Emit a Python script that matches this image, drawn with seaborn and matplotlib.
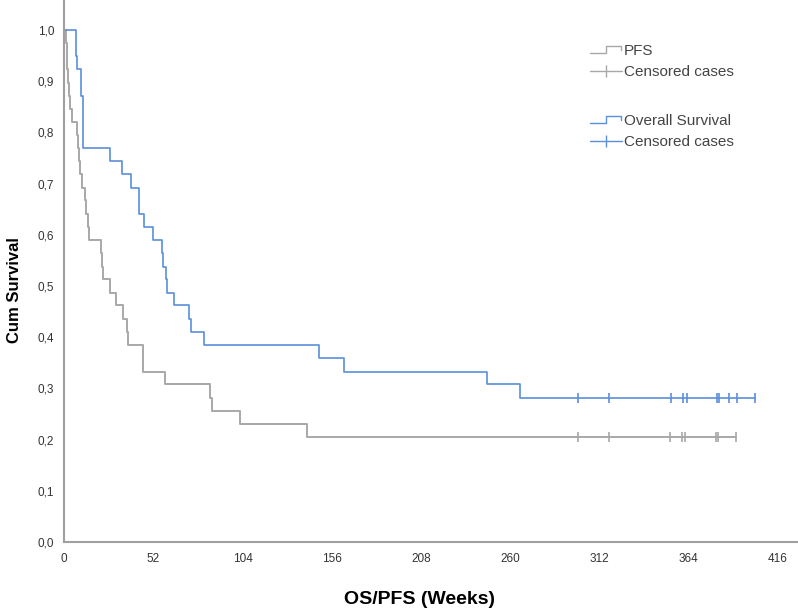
import numpy as np
import pandas as pd
import matplotlib
matplotlib.use("Agg")
import matplotlib.pyplot as plt
from matplotlib.lines import Line2D
from matplotlib.legend_handler import HandlerBase
import seaborn as sns

# Kaplan-Meier steps (weeks, cumulative survival)
os_times = [0, 6.8, 7.4, 10.1, 11.2, 26.8, 33.8, 39.0, 43.7, 46.6, 52.0, 56.9, 57.9,
            59.3, 59.8, 64.3, 73.0, 74.0, 81.6, 148.8, 163.2, 246.5, 265.7]
os_surv = [1.0, 0.949, 0.923, 0.872, 0.769, 0.744, 0.718, 0.692, 0.641, 0.615, 0.590, 0.564, 0.538,
           0.513, 0.487, 0.462, 0.436, 0.410, 0.385, 0.359, 0.333, 0.308, 0.282]
os_censored = [299.7, 317.8, 353.6, 360.9, 362.9, 380.4, 381.9, 387.7, 392.4, 402.7]

pfs_times = [0, 0.9, 1.6, 2.0, 2.3, 2.9, 3.5, 4.5, 7.4, 7.9, 8.7, 9.6, 10.3, 12.2, 13.1, 14.0, 14.7,
             21.3, 22.0, 22.9, 26.8, 30.1, 34.6, 36.5, 37.3, 46.2, 59.1, 85.1, 86.1, 102.6, 141.8]
pfs_surv = [1.0, 0.974, 0.949, 0.923, 0.897, 0.872, 0.846, 0.821, 0.795, 0.769, 0.744, 0.718, 0.692,
            0.667, 0.641, 0.615, 0.590, 0.564, 0.538, 0.513, 0.487, 0.462, 0.436, 0.410, 0.385,
            0.333, 0.308, 0.282, 0.256, 0.231, 0.205]
pfs_censored = [299.5, 317.5, 353.1, 360.1, 361.9, 379.9, 381.2, 391.6]

xticks = [0, 52, 104, 156, 208, 260, 312, 364, 416]
yticks = [0.0, 0.1, 0.2, 0.3, 0.4, 0.5, 0.6, 0.7, 0.8, 0.9, 1.0]
ytick_labels = ["0,0", "0,1", "0,2", "0,3", "0,4", "0,5", "0,6", "0,7", "0,8", "0,9", "1,0"]

blue = "#5b8fdb"
grey = "#a8a8a8"

sns.set_theme(style="white")
plt.rcParams["font.family"] = ["Liberation Sans", "DejaVu Sans"]


def curve_frame(times, surv, cens):
    # extend the last step out to the last censored case
    t = list(times) + [cens[-1]]
    s = list(surv) + [surv[-1]]
    return pd.DataFrame({"t": t, "s": s})


class StepHandler(HandlerBase):
    def create_artists(self, legend, orig_handle, xdescent, ydescent, width, height, fontsize, trans):
        x0, y0 = -xdescent, -ydescent
        xs = [x0, x0 + width * 0.5, x0 + width * 0.5, x0 + width * 0.97, x0 + width * 0.97]
        ys = [y0 + height * 0.15, y0 + height * 0.15, y0 + height * 0.85, y0 + height * 0.85, y0 + height * 0.45]
        ln = Line2D(xs, ys, color=orig_handle.get_color(), lw=1.0, transform=trans)
        return [ln]


fig = plt.figure(figsize=(7.98, 6.09), dpi=100)
ax = fig.add_axes([64 / 798, 67 / 609, 1 - 64 / 798, 542 / 609])

pfs_df = curve_frame(pfs_times, pfs_surv, pfs_censored)
os_df = curve_frame(os_times, os_surv, os_censored)

sns.lineplot(data=pfs_df, x="t", y="s", ax=ax, color=grey, lw=1.4, drawstyle="steps-post",
             estimator=None, sort=False)
sns.lineplot(data=os_df, x="t", y="s", ax=ax, color=blue, lw=1.2, drawstyle="steps-post",
             estimator=None, sort=False)

cens_pfs = pd.DataFrame({"t": pfs_censored, "s": [pfs_surv[-1]] * len(pfs_censored)})
cens_os = pd.DataFrame({"t": os_censored, "s": [os_surv[-1]] * len(os_censored)})
sns.scatterplot(data=cens_pfs, x="t", y="s", ax=ax, marker="|", s=50, color=grey, linewidth=1.2)
sns.scatterplot(data=cens_os, x="t", y="s", ax=ax, marker="|", s=50, color=blue, linewidth=1.2)

ax.set_xlim(0, 734 / (714 / 416))
ax.set_ylim(0, 542 / 512)
ax.set_xticks(xticks)
ax.set_xticklabels([str(v) for v in xticks])
ax.set_yticks(yticks)
ax.set_yticklabels(ytick_labels)
ax.tick_params(axis="both", length=0, labelsize=8.5, colors="#333333")
ax.tick_params(axis="y", pad=7)
ax.tick_params(axis="x", pad=8)

for side in ["top", "right"]:
    ax.spines[side].set_visible(False)
for side in ["left", "bottom"]:
    ax.spines[side].set_color("#a0a0a0")
    ax.spines[side].set_linewidth(1.5)

ax.set_xlabel("OS/PFS (Weeks)", fontsize=14, fontweight="bold", color="black")
ax.set_ylabel("Cum Survival", fontsize=12, fontweight="bold", color="black")
ax.xaxis.set_label_coords((420 - 64) / 734, -49 / 542)
ax.yaxis.set_label_coords(-42 / 734, (542 - 290) / 542)

legend_kw = dict(loc="upper left", bbox_transform=fig.transFigure, frameon=False, fontsize=11,
                 handlelength=2.1, handletextpad=0.1, labelspacing=0.45, borderpad=0,
                 borderaxespad=0, labelcolor="#444444")

pfs_h = Line2D([], [], color=grey)
pfs_c = Line2D([], [], color=grey, marker="|", markersize=9, lw=1.0)
leg1 = ax.legend([pfs_h, pfs_c], ["PFS", "Censored cases"],
                 handler_map={pfs_h: StepHandler()},
                 bbox_to_anchor=(590 / 798, 1 - 44 / 609), **legend_kw)
ax.add_artist(leg1)

os_h = Line2D([], [], color=blue)
os_c = Line2D([], [], color=blue, marker="|", markersize=9, lw=1.0)
ax.legend([os_h, os_c], ["Overall Survival", "Censored cases"],
          handler_map={os_h: StepHandler()},
          bbox_to_anchor=(590 / 798, 1 - 114 / 609), **legend_kw)

plt.savefig("out.png", dpi=100)
